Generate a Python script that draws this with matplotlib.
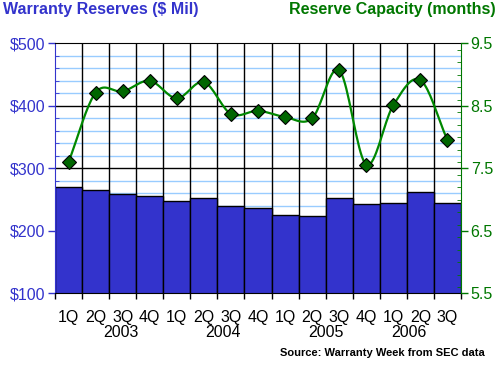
import numpy as np
import matplotlib.pyplot as plt
from matplotlib.ticker import MultipleLocator

plt.rcParams['font.family'] = ['Liberation Sans', 'DejaVu Sans']

quarters = ['1Q', '2Q', '3Q', '4Q', '1Q', '2Q', '3Q', '4Q',
            '1Q', '2Q', '3Q', '4Q', '1Q', '2Q', '3Q']
years = ['2003', '2004', '2005', '2006']
year_pos = [1.94, 5.71, 9.51, 12.58]

reserves = [270, 266, 259, 256, 247, 252, 239, 236,
            225, 223, 252, 243, 244, 262, 244]
capacity = [7.60, 8.71, 8.73, 8.90, 8.62, 8.88, 8.37, 8.42,
            8.32, 8.30, 9.07, 7.56, 8.51, 8.91, 7.95]

blue = '#3333CC'
green = '#007700'

fig = plt.figure(figsize=(5, 3.65), dpi=100)
ax = fig.add_axes([0.11, 0.1964, 0.812, 0.685])
x = np.arange(len(reserves))

# grid first
ax.set_axisbelow(True)
for v in np.arange(120, 500, 20):
    if v % 100:
        ax.axhline(v, color='#99CCFF', lw=1, zorder=0)
for v in [200, 300, 400]:
    ax.axhline(v, color='black', lw=1, zorder=0.5)
for b in np.arange(0.5, len(reserves) - 1, 1):
    ax.axvline(b, color='black', lw=1, zorder=0.5)

ax.bar(x, reserves, width=1.0, color=blue, edgecolor='black', lw=1, zorder=2)
ax.set_ylim(100, 500)
ax.set_xlim(-0.5, len(reserves) - 0.5)
ax.set_yticks([100, 200, 300, 400, 500])
ax.set_yticklabels(['$100', '$200', '$300', '$400', '$500'])
ax.yaxis.set_minor_locator(MultipleLocator(20))
ax.tick_params(axis='y', colors=blue, labelsize=11.5, length=5, width=1, pad=2)
ax.tick_params(axis='y', which='minor', direction='in', length=3, colors=blue)
ax.set_xticks(np.arange(-0.5, len(reserves), 1), minor=True)
ax.set_xticks(x)
ax.set_xticklabels(quarters)
ax.tick_params(axis='x', which='major', length=0, labelsize=11.5, pad=12)
ax.tick_params(axis='x', which='minor', length=4, width=1, color='black')
ax.spines['left'].set_color(blue)
ax.spines['right'].set_visible(False)
ax.spines['top'].set_color('black')
ax.spines['bottom'].set_color('black')

for yr, p in zip(years, year_pos):
    ax.text(p, -0.128, yr, transform=ax.get_xaxis_transform(), ha='center',
            va='top', fontsize=11.5)

ax2 = ax.twinx()
# smooth curve through the points (Catmull-Rom)
pts = np.column_stack([x, capacity]).astype(float)
ext = np.vstack([2 * pts[0] - pts[1], pts, 2 * pts[-1] - pts[-2]])
t = np.linspace(0, 1, 20)[:, None]
curve = []
for i in range(1, len(ext) - 2):
    p0, p1, p2, p3 = ext[i - 1], ext[i], ext[i + 1], ext[i + 2]
    seg = 0.5 * ((2 * p1) + (-p0 + p2) * t + (2 * p0 - 5 * p1 + 4 * p2 - p3) * t ** 2
                 + (-p0 + 3 * p1 - 3 * p2 + p3) * t ** 3)
    curve.append(seg)
curve = np.vstack(curve)
ax2.plot(curve[:, 0], curve[:, 1], color='#008800', lw=1.6, zorder=3)
ax2.plot(x, capacity, ls='none', marker='D', ms=7.5, mfc='#006600',
         mec='black', mew=0.8, zorder=4)
ax2.set_ylim(5.5, 9.5)
ax2.set_yticks([5.5, 6.5, 7.5, 8.5, 9.5])
ax2.set_yticklabels(['5.5', '6.5', '7.5', '8.5', '9.5'])
ax2.yaxis.set_minor_locator(MultipleLocator(0.2))
ax2.tick_params(axis='y', colors=green, labelsize=11.5, length=5, width=1, pad=2)
ax2.tick_params(axis='y', which='minor', direction='in', length=3, colors=green)
ax2.spines['right'].set_color(green)
ax2.spines['left'].set_visible(False)
ax2.spines['top'].set_visible(False)
ax2.spines['bottom'].set_visible(False)

fig.text(0.006, 0.995, 'Warranty Reserves ($ Mil)', color=blue, fontsize=11.5,
         fontweight='bold', ha='left', va='top')
fig.text(0.992, 0.995, 'Reserve Capacity (months)', color=green, fontsize=11.5,
         fontweight='bold', ha='right', va='top')
fig.text(0.97, 0.034, 'Source: Warranty Week from SEC data', fontsize=8,
         fontweight='bold', ha='right', va='center')

fig.savefig('out.png', dpi=100)
